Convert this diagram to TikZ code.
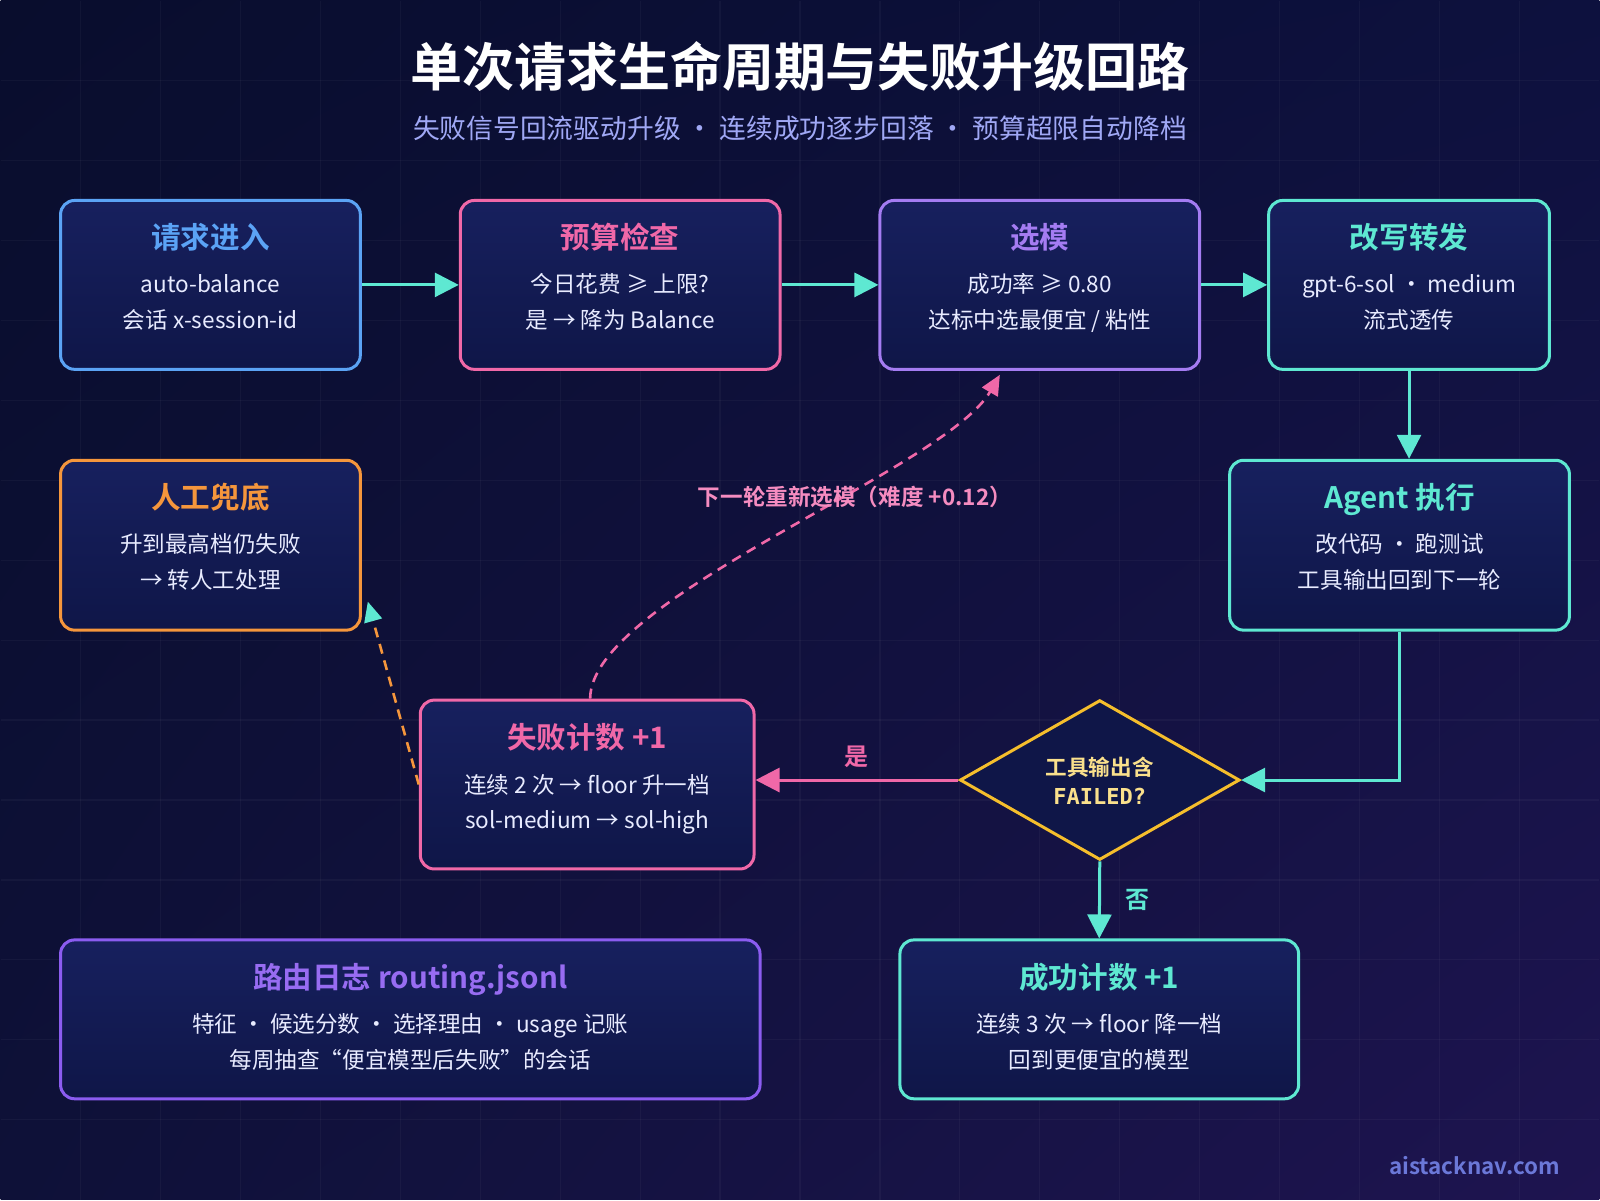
\documentclass[tikz,border=0pt]{standalone}
\usepackage{fontspec}
\setmainfont{Noto Sans CJK SC}[BoldFont={Noto Sans CJK SC Bold}]
\newfontfamily\monofont{DejaVu Sans Mono}
\usepackage{xcolor}
\definecolor{bgtl}{RGB}{9, 13, 45}
\definecolor{bgtr}{RGB}{13, 17, 62}
\definecolor{bgbl}{RGB}{14, 17, 56}
\definecolor{bgbr}{RGB}{30, 20, 80}
\definecolor{cardtop}{RGB}{23, 32, 94}
\definecolor{cardbot}{RGB}{15, 22, 72}
\definecolor{routeblue}{RGB}{91, 163, 245}
\definecolor{routepink}{RGB}{240, 104, 168}
\definecolor{routepurple}{RGB}{164, 124, 242}
\definecolor{routeteal}{RGB}{94, 232, 210}
\definecolor{routeorange}{RGB}{245, 150, 60}
\definecolor{routeviolet}{RGB}{139, 92, 240}
\definecolor{routeyellow}{RGB}{245, 190, 44}
\definecolor{diatext}{RGB}{250, 224, 140}
\definecolor{bodytext}{RGB}{232, 235, 255}
\definecolor{subtext}{RGB}{160, 168, 245}
\definecolor{retrytext}{RGB}{245, 140, 192}
\definecolor{marktext}{RGB}{107, 120, 216}
\usetikzlibrary{arrows.meta,shapes.geometric,shadings,positioning,calc}

\tikzset{
    card/.style={draw=#1, line width=1.5pt, rounded corners=7pt,
        top color=cardtop, bottom color=cardbot, inner sep=0pt},
    ttl/.style={font=\bfseries\fontsize{14.8}{18}\selectfont, inner sep=0pt,
        text height=13pt, text depth=1.8pt},
    body/.style={text=bodytext, font=\fontsize{11.3}{14}\selectfont, inner sep=0pt,
        text height=9.9pt, text depth=1.4pt},
    flow/.style={line width=1.5pt, routeteal, -{Triangle[length=12pt,width=12pt]}},
    retry/.style={line width=1.3pt, routepink, dash pattern=on 5pt off 3.5pt,
        -{Triangle[length=10pt,width=9pt]}},
}

\begin{document}
\begin{tikzpicture}[x=0.5pt, y=-0.5pt]
    % Background and faint grid
    \shade[upper left=bgtl, upper right=bgtr, lower left=bgbl, lower right=bgbr]
        (0,0) rectangle (1600,1200);
    \foreach \gx in {80,160,...,1520} {
        \draw[white, opacity=0.035, line width=0.6pt] (\gx,0) -- (\gx,1200);
    }
    \foreach \gy in {80,160,...,1120} {
        \draw[white, opacity=0.035, line width=0.6pt] (0,\gy) -- (1600,\gy);
    }
    \useasboundingbox (0,0) rectangle (1600,1200);

    % Title
    \node[text=white, font=\bfseries\fontsize{26}{30}\selectfont] (title) at (800,66)
        {单次请求生命周期与失败升级回路};
    \node[text=subtext, font=\fontsize{13.4}{16}\selectfont] (subtitle) at (800,128)
        {失败信号回流驱动升级 ・ 连续成功逐步回落 ・ 预算超限自动降档};

    % Top row
    \node[card=routeblue, minimum width=150pt, minimum height=84.5pt] (req) at (210,284.5) {};
    \node[ttl, text=routeblue] (req-t) at ([yshift=-19pt]req.north) {请求进入};
    \node[body] (req-a) at ([yshift=-42.5pt]req.north) {auto-balance};
    \node[body] (req-b) at ([yshift=-60.5pt]req.north) {会话 x-session-id};

    \node[card=routepink, minimum width=160pt, minimum height=84.5pt] (bud) at (620,284.5) {};
    \node[ttl, text=routepink] (bud-t) at ([yshift=-19pt]bud.north) {预算检查};
    \node[body] (bud-a) at ([yshift=-42.5pt]bud.north) {今日花费 ≥ 上限?};
    \node[body] (bud-b) at ([yshift=-60.5pt]bud.north) {是 → 降为 Balance};

    \node[card=routepurple, minimum width=160pt, minimum height=84.5pt] (sel) at (1040,284.5) {};
    \node[ttl, text=routepurple] (sel-t) at ([yshift=-19pt]sel.north) {选模};
    \node[body] (sel-a) at ([yshift=-42.5pt]sel.north) {成功率 ≥ 0.80};
    \node[body] (sel-b) at ([yshift=-60.5pt]sel.north) {达标中选最便宜 / 粘性};

    \node[card=routeteal, minimum width=140.5pt, minimum height=84.5pt] (fwd) at (1409.5,284.5) {};
    \node[ttl, text=routeteal] (fwd-t) at ([yshift=-19pt]fwd.north) {改写转发};
    \node[body] (fwd-a) at ([yshift=-42.5pt]fwd.north) {gpt-6-sol ・ medium};
    \node[body] (fwd-b) at ([yshift=-60.5pt]fwd.north) {流式透传};

    % Middle row
    \node[card=routeorange, minimum width=150pt, minimum height=85pt] (man) at (210,545) {};
    \node[ttl, text=routeorange] (man-t) at ([yshift=-19.5pt]man.north) {人工兜底};
    \node[body] (man-a) at ([yshift=-42.5pt]man.north) {升到最高档仍失败};
    \node[body] (man-b) at ([yshift=-60.5pt]man.north) {→ 转人工处理};

    \node[card=routeteal, minimum width=170pt, minimum height=85pt] (agt) at (1400,545) {};
    \node[ttl, text=routeteal] (agt-t) at ([yshift=-19.5pt]agt.north) {Agent 执行};
    \node[body] (agt-a) at ([yshift=-42.5pt]agt.north) {改代码 ・ 跑测试};
    \node[body] (agt-b) at ([yshift=-60.5pt]agt.north) {工具输出回到下一轮};

    \node[card=routepink, minimum width=167pt, minimum height=84.5pt] (fail) at (587,784.5) {};
    \node[ttl, text=routepink] (fail-t) at ([yshift=-19.5pt]fail.north) {失败计数 +1};
    \node[body] (fail-a) at ([yshift=-43pt]fail.north) {连续 2 次 → floor 升一档};
    \node[body] (fail-b) at ([yshift=-61pt]fail.north) {sol-medium → sol-high};

    % Decision
    \node[diamond, draw=routeyellow, line width=1.5pt, fill=cardbot, inner sep=0pt,
        minimum width=140pt, minimum height=80pt] (dia) at (1100,780) {};
    \node[text=diatext, font=\bfseries\fontsize{10.8}{13}\selectfont, inner sep=0pt]
        (dia-a) at (1100,767) {工具输出含};
    \node[text=diatext, font=\monofont\bfseries\fontsize{11}{13}\selectfont, inner sep=0pt]
        (dia-b) at (1100,796) {FAILED?};

    % Bottom row
    \node[card=routeviolet, minimum width=350pt, minimum height=79.5pt] (log) at (410,1019.5) {};
    \node[ttl, text=routeviolet!90!white] (log-t) at ([yshift=-19.5pt]log.north) {路由日志 routing.jsonl};
    \node[body] (log-a) at ([yshift=-43pt]log.north) {特征 ・ 候选分数 ・ 选择理由 ・ usage 记账};
    \node[body] (log-b) at ([yshift=-61pt]log.north) {每周抽查“便宜模型后失败”的会话};

    \node[card=routeteal, minimum width=199.5pt, minimum height=79.5pt] (succ) at (1099.5,1019.5) {};
    \node[ttl, text=routeteal] (succ-t) at ([yshift=-19.5pt]succ.north) {成功计数 +1};
    \node[body] (succ-a) at ([yshift=-43pt]succ.north) {连续 3 次 → floor 降一档};
    \node[body] (succ-b) at ([yshift=-61pt]succ.north) {回到更便宜的模型};

    % Main flow
    \draw[flow] (req.east) -- (bud.west);
    \draw[flow] (bud.east) -- (sel.west);
    \draw[flow] (sel.east) -- (fwd.west);
    \draw[flow] (fwd.south) -- (fwd.south |- agt.north);
    \draw[flow] (agt.south) |- (dia.east);
    \draw[flow, routepink] (dia.west) -- (dia.west -| fail.east)
        node[midway, above=2pt, text=routepink, font=\bfseries\fontsize{12}{14}\selectfont] (yes) {是};
    \draw[flow] (dia.south) -- (succ.north)
        node[midway, right=9pt, text=routeteal, font=\bfseries\fontsize{12}{14}\selectfont] (no) {否};

    % Retry loop and escalation
    \draw[retry] ([xshift=1.5pt]fail.north) .. controls +(0,-100) and +(-55,95) .. ([xshift=-20pt, yshift=-2pt]sel.south);
    \node[text=retrytext, font=\bfseries\fontsize{11.3}{14}\selectfont] (retry-l) at (855,497)
        {下一轮重新选模（难度 +0.12）};
    \draw[routeorange, line width=1.3pt, dash pattern=on 5pt off 3.5pt,
        -{Triangle[length=10pt,width=9pt,color=routeteal]}]
        (fail.west) -- ([xshift=3pt, yshift=15pt]man.south east);

    % Watermark
    \node[anchor=east, inner sep=0pt, text=marktext, font=\bfseries\fontsize{11.2}{14}\selectfont] (mark) at (1561,1166)
        {aistacknav.com};
\end{tikzpicture}
\end{document}
